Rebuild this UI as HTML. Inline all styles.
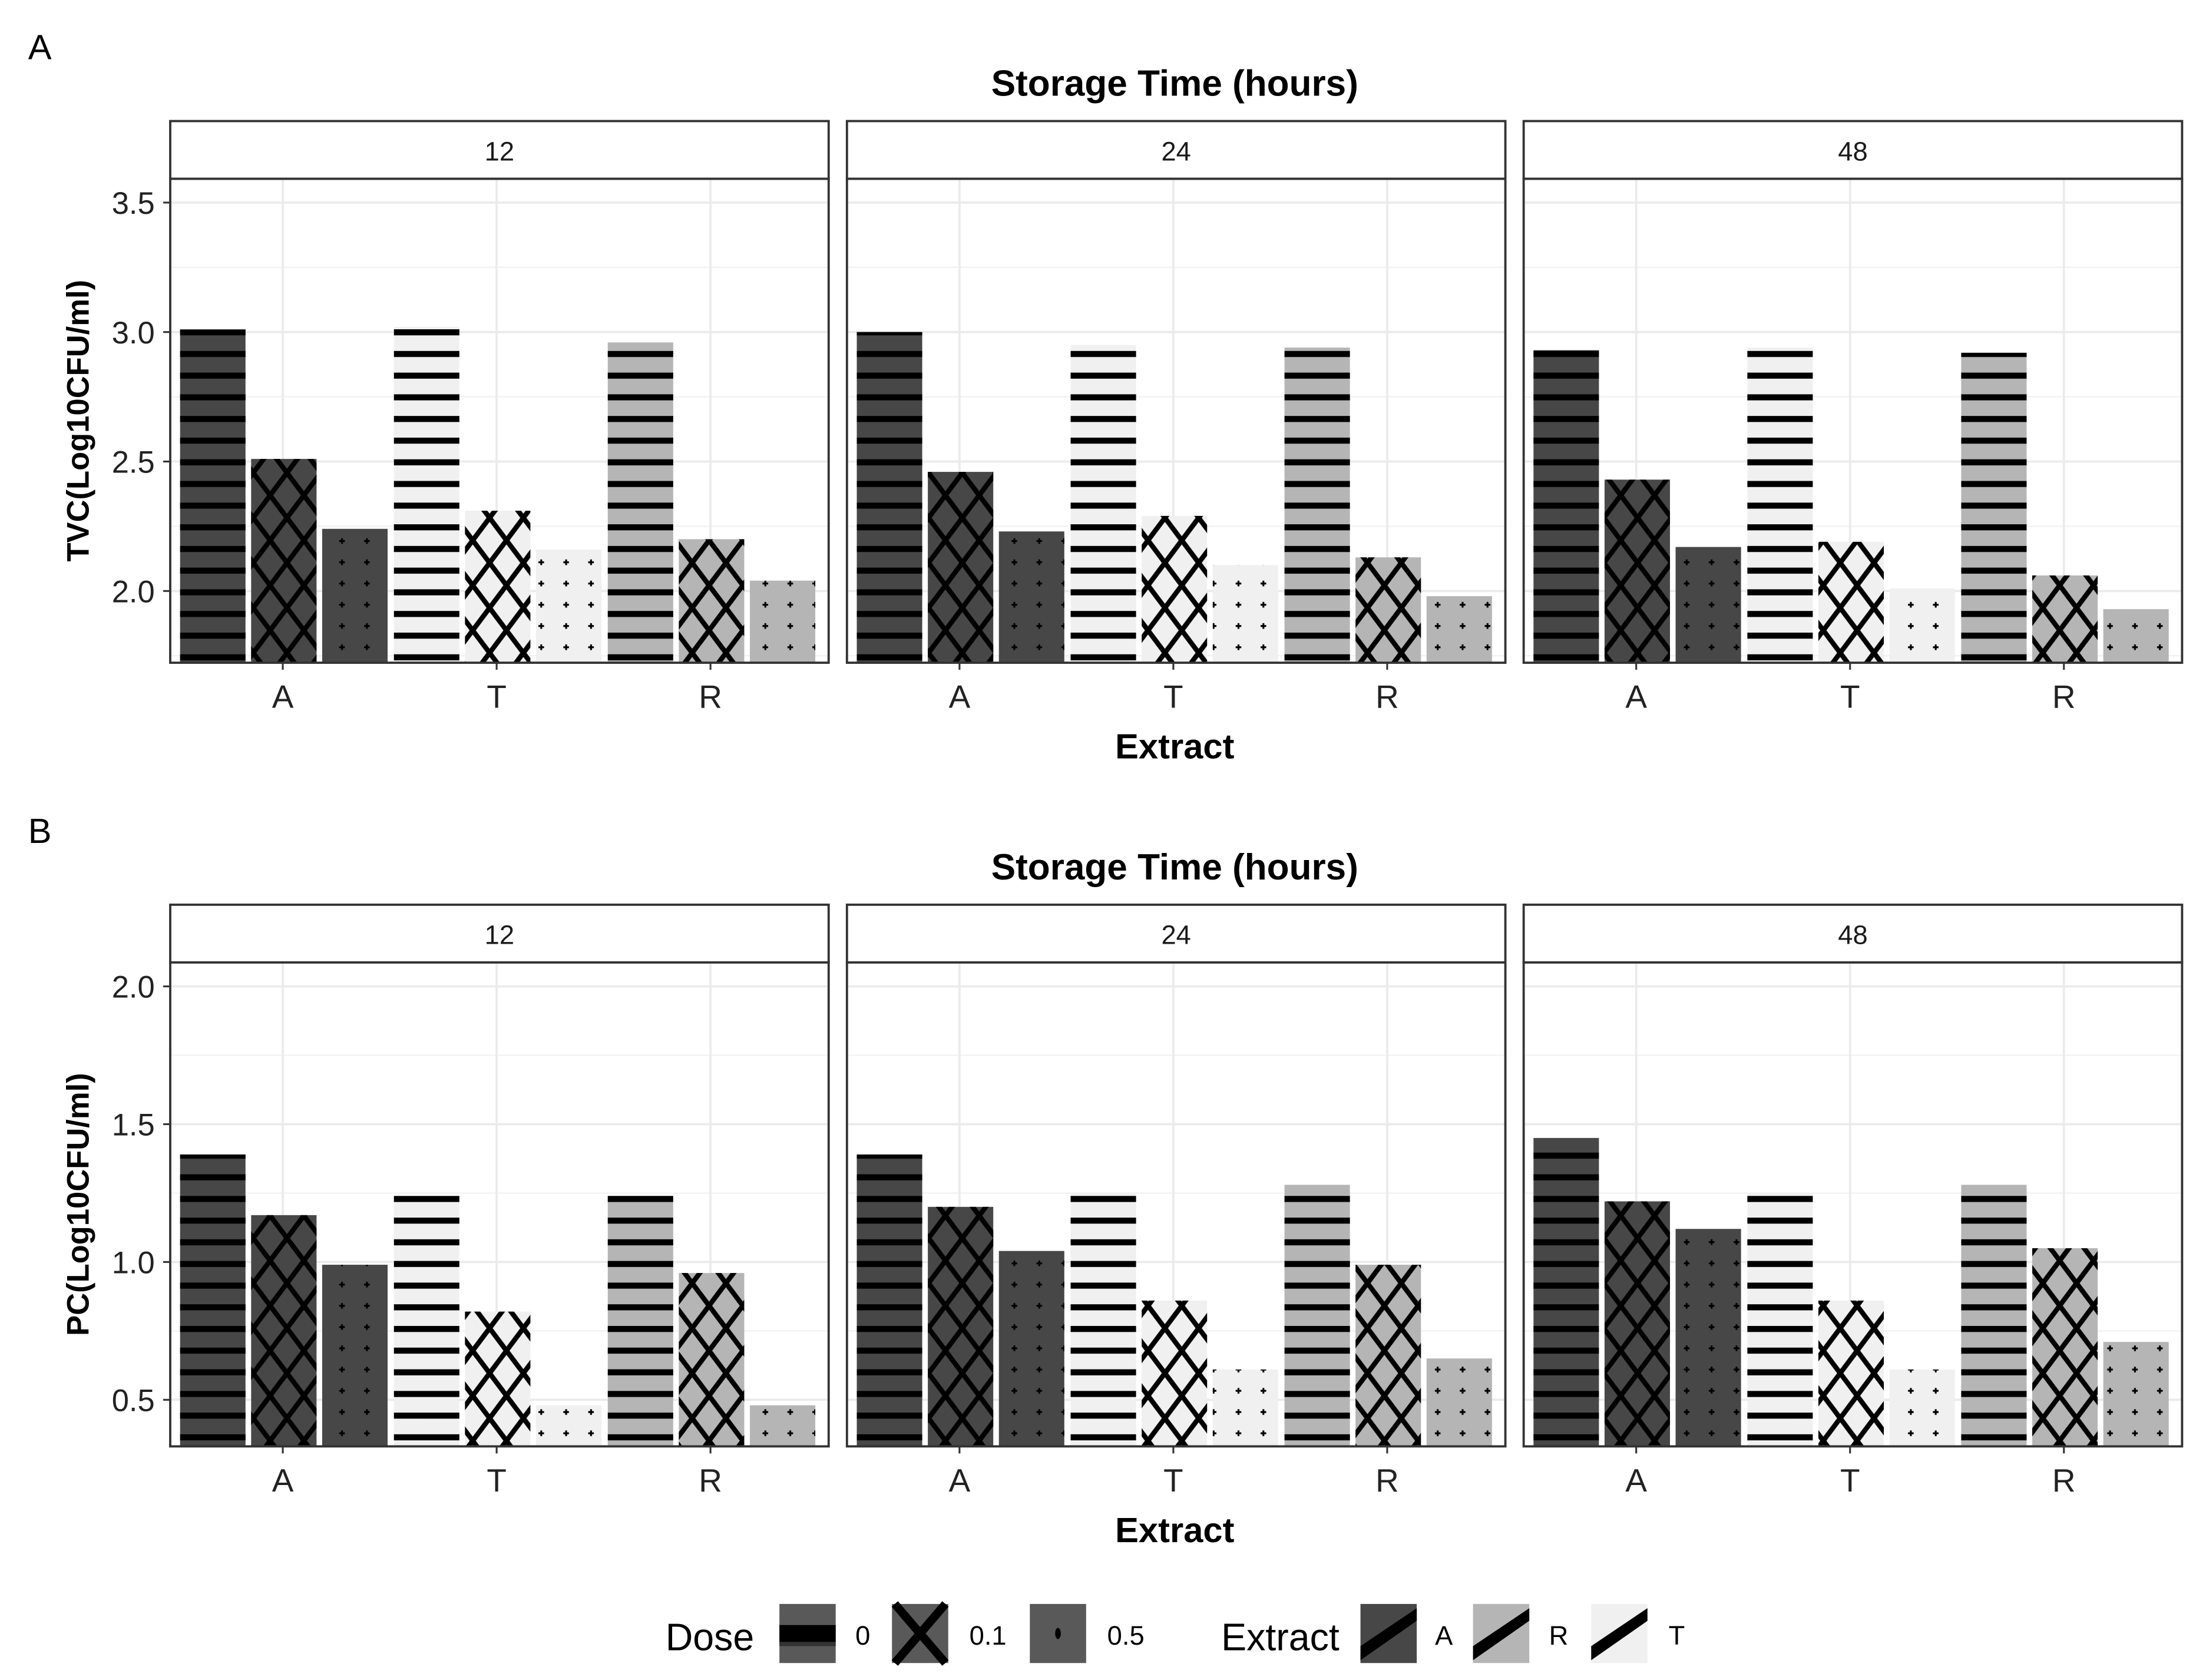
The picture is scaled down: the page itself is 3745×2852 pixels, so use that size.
<!DOCTYPE html>
<html><head><meta charset="utf-8"><style>
html,body{margin:0;padding:0;background:#fff}
svg{display:block}
text{font-family:"Liberation Sans",Arial,sans-serif}
</style></head><body>
<svg id="chart" width="3745" height="2852" viewBox="0 0 1568 1194" xmlns="http://www.w3.org/2000/svg">
<defs>
<pattern id="stripe" patternUnits="userSpaceOnUse" width="20" height="15.4" y="3"><rect x="0" y="0" width="20" height="4.3" fill="#000"/></pattern>
<pattern id="cross" patternUnits="userSpaceOnUse" width="24" height="32"><path d="M-12,-16 L36,48 M36,-16 L-12,48 M-12,16 L12,48 M12,-16 L36,16 M12,-16 L-12,16 M36,16 L12,48" stroke="#000" stroke-width="3.5" fill="none"/></pattern>
<pattern id="dots" patternUnits="userSpaceOnUse" width="17.7" height="15.1" x="6" y="4"><path d="M5,3 h4 M7,1 v4" stroke="#000" stroke-width="1.3"/></pattern>
</defs>
<g id="root"></g>
</svg>
<script>
const panelsTitle = ["12","24","48"];
const extracts = ["A","T","R"];
const doses = ["0","0.1","0.5"];
// TVC values [panel][extract][dose]
const tvc12 = [[3.01,2.51,2.24],[3.02,2.31,2.16],[2.96,2.20,2.04]];
const tvc24 = [[3.00,2.46,2.23],[2.95,2.29,2.10],[2.94,2.13,1.98]];
const tvc48 = [[2.93,2.43,2.17],[2.94,2.19,2.01],[2.92,2.06,1.93]];
const pc12 = [[1.39,1.17,0.99],[1.24,0.82,0.48],[1.24,0.96,0.48]];
const pc24 = [[1.39,1.20,1.04],[1.25,0.86,0.61],[1.28,0.99,0.65]];
const pc48 = [[1.45,1.22,1.12],[1.25,0.86,0.61],[1.28,1.05,0.71]];
const tvcTicks = [2.0,2.5,3.0,3.5];
const pcTicks = [0.5,1.0,1.5,2.0];
const tvcTickLabels = ["2.0","2.5","3.0","3.5"];
const pcTickLabels = ["0.5","1.0","1.5","2.0"];

const NS="http://www.w3.org/2000/svg";
const root=document.getElementById('root');
function mk(tag,attrs,parent,txt){const e=document.createElementNS(NS,tag);for(const k in attrs)e.setAttribute(k,attrs[k]);if(txt!==undefined)e.textContent=txt;(parent||root).appendChild(e);return e;}
const fillCol={A:"#474747",T:"#f0f0f0",R:"#b5b5b5"};
const pat=["url(#stripe)","url(#cross)","url(#dots)"];
const panelX=[121,602,1083], panelW=468;

function drawRow(cfg){
  const {top,label,ylab,data,ticks,tickLabels,ymin,ymax}=cfg;
  const sTop=top, pTop=top+41, pBot=top+385;
  const ys=v=>pBot-(v-ymin)/(ymax-ymin)*(pBot-pTop);
  const pl=mk('text',{x:20,y:top-44,'font-size':25},root,label);
  
  
  const st=mk('text',{x:835,y:top-18,'font-size':26,'font-weight':'bold','text-anchor':'middle'},root,'Storage Time (hours)');
  
  
  const yt=mk('text',{transform:`translate(63,${(pTop+pBot)/2}) rotate(-90)`,'font-size':22,'font-weight':'bold','text-anchor':'middle'},root,ylab);
  
  
  const xt=mk('text',{x:835,y:pBot+68,'font-size':25,'font-weight':'bold','text-anchor':'middle'},root,'Extract');
  
  
  for(let p=0;p<3;p++){
    const x0=panelX[p];
    const g=mk('g',{});
    
    
    mk('rect',{x:x0,y:pTop,width:panelW,height:pBot-pTop,fill:'#fff'},g);
    for(let i=0;i<ticks.length;i++){
      const yy=ys(ticks[i]);
      if(yy>=pTop&&yy<=pBot) mk('line',{x1:x0,x2:x0+panelW,y1:yy,y2:yy,stroke:'#ebebeb','stroke-width':1.6},g);
      const ym=ys(ticks[i]+(ticks[1]-ticks[0])/2);
      if(ym>=pTop&&ym<=pBot) mk('line',{x1:x0,x2:x0+panelW,y1:ym,y2:ym,stroke:'#f2f2f2','stroke-width':1},g);
      const ymn=ys(ticks[i]-(ticks[1]-ticks[0])/2);
      if(i===0&&ymn>=pTop&&ymn<=pBot) mk('line',{x1:x0,x2:x0+panelW,y1:ymn,y2:ymn,stroke:'#f2f2f2','stroke-width':1},g);
    }
    const cx=e=>x0+80+e*152;
    for(let e=0;e<3;e++) mk('line',{x1:cx(e),x2:cx(e),y1:pTop,y2:pBot,stroke:'#ebebeb','stroke-width':1.6},g);
    for(let e=0;e<3;e++){
      for(let d=0;d<3;d++){
        const v=data[p][e][d];
        const bx=cx(e)-73+d*50.5, bw=46.5;
        const yy=Math.max(ys(v),pTop);
        const r=mk('rect',{x:bx,y:yy,width:bw,height:pBot-yy,fill:fillCol[extracts[e]]},g);
        
        
        mk('rect',{x:bx,y:yy,width:bw,height:pBot-yy,fill:pat[d]},g);
      }
      const tl=mk('text',{x:cx(e),y:pBot+32,'font-size':23,'text-anchor':'middle',fill:'#222'},g,extracts[e]);
      
      
      mk('line',{x1:cx(e),x2:cx(e),y1:pBot,y2:pBot+5,stroke:'#333','stroke-width':1.3},g);
    }
    mk('rect',{x:x0,y:pTop,width:panelW,height:pBot-pTop,fill:'none',stroke:'#333','stroke-width':1.6},g);
    mk('rect',{x:x0,y:sTop,width:panelW,height:41,fill:'#fff',stroke:'#333','stroke-width':1.6},g);
    const s=mk('text',{x:x0+panelW/2,y:sTop+28,'font-size':19,'text-anchor':'middle',fill:'#1a1a1a'},g,panelsTitle[p]);
    
    
  }
  for(let i=0;i<ticks.length;i++){
    const yy=ys(ticks[i]);
    const t=mk('text',{x:110,y:yy+8,'font-size':22,'text-anchor':'end',fill:'#222'},root,tickLabels[i]);
    
    
    mk('line',{x1:116,x2:121,y1:yy,y2:yy,stroke:'#333','stroke-width':1.3});
  }
}
drawRow({top:86,label:'A',ylab:'TVC(Log10CFU/ml)',data:[tvc12,tvc24,tvc48],ticks:tvcTicks,tickLabels:tvcTickLabels,ymin:1.723,ymax:3.592});
drawRow({top:643,label:'B',ylab:'PC(Log10CFU/ml)',data:[pc12,pc24,pc48],ticks:pcTicks,tickLabels:pcTickLabels,ymin:0.331,ymax:2.087});

const lg=mk('g',{});


mk('text',{x:473,y:1173,'font-size':27},lg,'Dose');
const doseBoxX=[554,634,732], doseLblX=[608,689,787];
for(let d=0;d<3;d++){
  const b=mk('g',{},lg);
  
  
  const x=doseBoxX[d];
  mk('rect',{x:x,y:1140,width:40,height:42,fill:'#595959'},b);
  if(d===0){mk('rect',{x:x,y:1155,width:40,height:12,fill:'#000'},b);mk('rect',{x:x,y:1167,width:40,height:3,fill:'#333'},b);}
  if(d===1){mk('path',{d:`M${x+2},1140 L${x+38},1182 M${x+38},1140 L${x+2},1182`,stroke:'#000','stroke-width':6},b);}
  if(d===2){mk('ellipse',{cx:x+20,cy:1161,rx:2,ry:4,fill:'#000'},b);}
  mk('text',{x:doseLblX[d],y:1169,'font-size':19},b,doses[d]);
}
mk('text',{x:868,y:1173,'font-size':27},lg,'Extract');
const exNames=["A","R","T"], exBoxX=[967,1047,1131], exLblX=[1020,1101,1186];
for(let i=0;i<3;i++){
  const b=mk('g',{},lg);
  
  
  const x=exBoxX[i];
  mk('rect',{x:x,y:1140,width:40,height:42,fill:fillCol[exNames[i]]},b);
  mk('path',{d:`M${x},1170 L${x+40},1143 L${x+40},1152 L${x},1180 Z`,fill:'#000'},b);
  mk('text',{x:exLblX[i],y:1169,'font-size':19},b,exNames[i]);
}
</script>
</body></html>
